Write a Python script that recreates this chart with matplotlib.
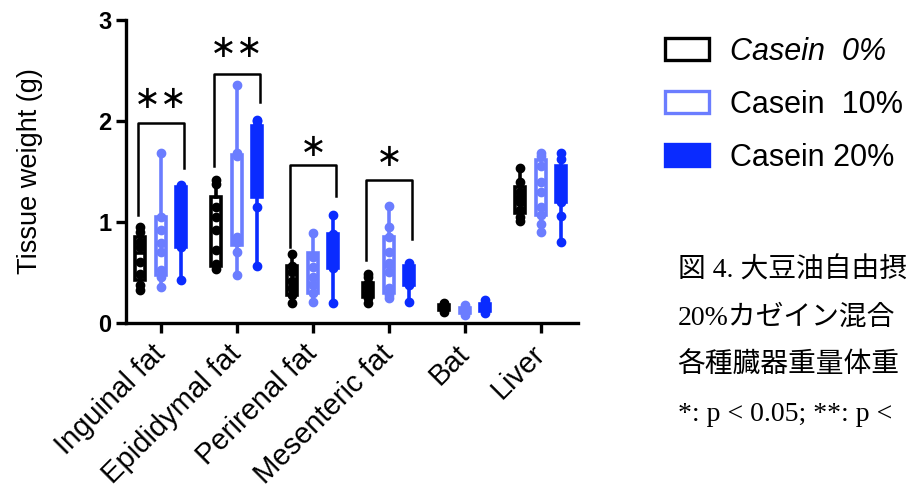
import matplotlib.pyplot as plt
from matplotlib.patches import Rectangle

plt.rcParams['font.family'] = ['Liberation Sans', 'DejaVu Sans']

# 组织名称
tissues = ['Inguinal fat', 'Epididymal fat', 'Perirenal fat', 'Mesenteric fat', 'Bat', 'Liver']
diets = ['Casein  0%', 'Casein  10%', 'Casein 20%']
colors = ['#000000', '#6b7dff', '#0a2bff']
filled = [False, False, True]

# 各点数据 (g) —— 每个组织依次为 0% / 10% / 20%
points = {
    'Inguinal fat': [
        [0.33, 0.38, 0.48, 0.60, 0.75, 0.80, 0.90, 0.95],
        [0.36, 0.45, 0.52, 0.70, 0.79, 0.92, 1.05, 1.68],
        [0.43, 0.75, 0.85, 0.95, 1.05, 1.15, 1.25, 1.32, 1.37],
    ],
    'Epididymal fat': [
        [0.53, 0.58, 0.72, 0.92, 1.05, 1.15, 1.38, 1.42],
        [0.47, 0.70, 0.80, 0.85, 1.65, 1.68, 2.36],
        [0.56, 1.15, 1.30, 1.55, 1.80, 1.95, 2.00, 2.01],
    ],
    'Perirenal fat': [
        [0.20, 0.28, 0.35, 0.42, 0.50, 0.56, 0.68],
        [0.21, 0.30, 0.38, 0.45, 0.55, 0.65, 0.89],
        [0.20, 0.54, 0.60, 0.70, 0.78, 0.88, 1.07],
    ],
    'Mesenteric fat': [
        [0.20, 0.25, 0.30, 0.35, 0.40, 0.45, 0.48],
        [0.25, 0.28, 0.35, 0.50, 0.59, 0.70, 0.85, 0.95, 1.16],
        [0.21, 0.38, 0.42, 0.46, 0.50, 0.55, 0.59],
    ],
    'Bat': [
        [0.11, 0.13, 0.14, 0.15, 0.17, 0.19, 0.20],
        [0.08, 0.10, 0.11, 0.12, 0.14, 0.16, 0.18],
        [0.10, 0.12, 0.14, 0.15, 0.17, 0.20, 0.23],
    ],
    'Liver': [
        [1.01, 1.05, 1.12, 1.20, 1.25, 1.30, 1.40, 1.53],
        [0.90, 0.98, 1.07, 1.15, 1.30, 1.40, 1.55, 1.65, 1.68],
        [0.80, 1.06, 1.20, 1.30, 1.40, 1.50, 1.62, 1.68],
    ],
}

# 箱体 (Q1, 中位数, Q3)
q1 = {
    'Inguinal fat': [0.43, 0.47, 0.75], 'Epididymal fat': [0.56, 0.77, 1.25],
    'Perirenal fat': [0.28, 0.30, 0.54], 'Mesenteric fat': [0.26, 0.30, 0.38],
    'Bat': [0.13, 0.10, 0.12], 'Liver': [1.09, 1.07, 1.20],
}
med = {
    'Inguinal fat': [0.69, 0.79, 1.10], 'Epididymal fat': [0.92, 0.83, 1.60],
    'Perirenal fat': [0.42, 0.40, 0.72], 'Mesenteric fat': [0.35, 0.55, 0.47],
    'Bat': [0.15, 0.12, 0.15], 'Liver': [1.22, 1.30, 1.40],
}
q3 = {
    'Inguinal fat': [0.85, 1.05, 1.35], 'Epididymal fat': [1.25, 1.66, 1.95],
    'Perirenal fat': [0.56, 0.69, 0.88], 'Mesenteric fat': [0.40, 0.85, 0.56],
    'Bat': [0.18, 0.15, 0.19], 'Liver': [1.35, 1.61, 1.55],
}

# 显著性标记
sig_idx = [0, 1, 2, 3]
sig_top = [1.98, 2.47, 1.56, 1.42]
sig_left = [1.07, 1.55, 0.75, 0.62]
sig_right = [1.53, 2.19, 1.26, 0.83]
sig_star_y = [2.21, 2.72, 1.74, 1.64]
sig_text = ['∗∗', '∗∗', '∗', '∗']

# 图注 (原图右侧被截断)
caption = ['図 4. 大豆油自由摂',
           '20%カゼイン混合',
           '各種臓器重量体重',
           '*: p < 0.05; **: p <']

fig = plt.figure(figsize=(9.06, 4.90), dpi=100)
ax = fig.add_axes([0.139, 0.341, 0.499, 0.618])

offset = 0.27
box_w = 0.13
lw = 2.6
for i, t in enumerate(tissues):
    for j in range(3):
        pos = i + (j - 1) * offset
        pts = points[t][j]
        stats = [{'whislo': min(pts), 'q1': q1[t][j], 'med': med[t][j],
                  'q3': q3[t][j], 'whishi': max(pts), 'fliers': []}]
        c = colors[j]
        ax.bxp(stats, positions=[pos], widths=box_w, showfliers=False,
               showcaps=False, patch_artist=True,
               boxprops=dict(facecolor=c if filled[j] else 'white', edgecolor=c, linewidth=lw),
               whiskerprops=dict(color=c, linewidth=lw),
               medianprops=dict(color=c, linewidth=lw), manage_ticks=False, zorder=2)
        ax.plot([pos] * len(pts), pts, 'o', color=c, markersize=6, zorder=3)

for k, i in enumerate(sig_idx):
    xl, xr = i - 0.3, i + 0.3
    ax.plot([xl, xl, xr, xr], [sig_left[k], sig_top[k], sig_top[k], sig_right[k]],
            color='black', linewidth=1.8, clip_on=False)
    ax.text(i, sig_star_y[k], sig_text[k], ha='center', va='center', fontsize=23,
            family='DejaVu Sans')

ax.set_xlim(-0.46, 5.49)
ax.set_ylim(0, 3)
ax.set_yticks([0, 1, 2, 3])
ax.set_yticklabels(['0', '1', '2', '3'], fontsize=17, fontweight='bold')
ax.set_xticks(range(len(tissues)))
ax.set_xticklabels(tissues, rotation=45, ha='right', va='center', rotation_mode='anchor',
                   fontsize=21)
ax.set_ylabel('Tissue weight (g)', fontsize=19.5, labelpad=40)
ax.tick_params(axis='both', width=2.4, length=7, direction='out')
ax.tick_params(axis='x', pad=12)
for s in ['top', 'right']:
    ax.spines[s].set_visible(False)
for s in ['left', 'bottom']:
    ax.spines[s].set_linewidth(2.4)

# 图例
handles = [Rectangle((0, 0), 1, 1, facecolor='white', edgecolor=colors[0], linewidth=2.4),
           Rectangle((0, 0), 1, 1, facecolor='white', edgecolor=colors[1], linewidth=2.4),
           Rectangle((0, 0), 1, 1, facecolor=colors[2], edgecolor=colors[2], linewidth=2.4)]
leg = fig.legend(handles, diets, loc='upper left', bbox_to_anchor=(0.72, 0.95), frameon=False,
                 fontsize=22, handlelength=1.45, handleheight=0.75, handletextpad=0.7,
                 labelspacing=0.75, borderaxespad=0)
leg.get_texts()[0].set_style('italic')

# 图注
for k, line in enumerate(caption):
    fig.text(0.748, 1 - (270 + 48 * k) / 490, line, ha='left', va='center', fontsize=20,
             family=['Liberation Serif', 'Noto Sans CJK JP'])

fig.savefig('out.png', dpi=100)
